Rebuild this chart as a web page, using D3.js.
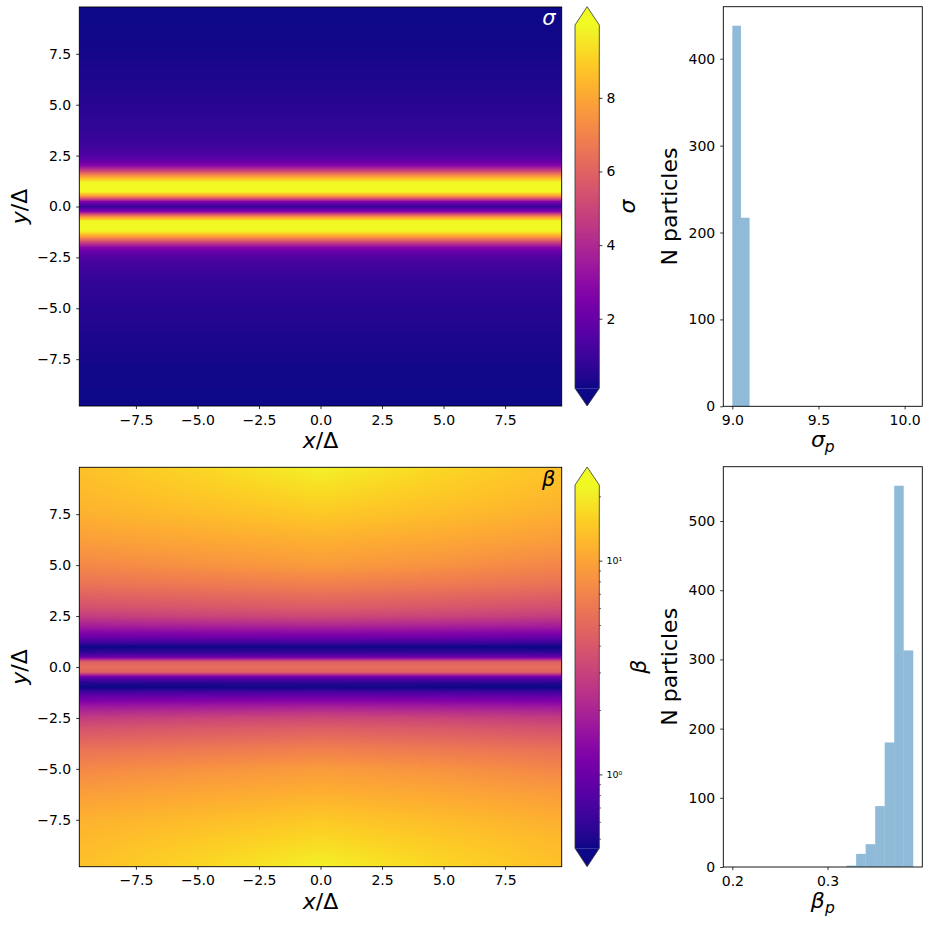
<!DOCTYPE html>
<html><head><meta charset="utf-8">
<script src="https://cdn.jsdelivr.net/npm/d3@7"></script>
<style>body{margin:0;background:#fff}svg{display:block;font-family:"DejaVu Sans",sans-serif}</style>
</head><body>
<script>
// ---------------- DATA ----------------
// sigma field (uniform in x): profile vs y
const sigmaY = [9.8, 9, 8, 7, 6, 5, 4, 3.5, 3, 2.5, 2.25, 2, 1.75, 1.5, 1.25, 1, 0.75, 0.5, 0.25, 0,
  -0.25, -0.5, -0.75, -1, -1.25, -1.5, -1.75, -2, -2.25, -2.5, -3, -3.5, -4, -5, -6, -7, -8, -9, -9.8];
const sigmaVals = [0.12, 0.15, 0.2, 0.28, 0.4, 0.55, 0.72, 0.85, 1.05, 1.45, 1.9, 2.9, 5.0, 7.6, 9.6, 10.4, 10.3, 7.4, 2.8, 0.8,
  2.8, 7.4, 10.3, 10.4, 9.6, 7.6, 5.0, 2.9, 1.9, 1.45, 1.05, 0.85, 0.72, 0.55, 0.4, 0.28, 0.2, 0.15, 0.12];

// beta field on a coarse grid (rows: y, columns: x)
const betaX = [-9.8, -5, 0, 5, 9.8];
const betaY = [9.8, 8.5, 7.5, 6.25, 5, 4, 3, 2.5, 2, 1.5, 1.25, 1, 0.75, 0.5, 0.25, 0,
  -0.25, -0.5, -0.75, -1, -1.25, -1.5, -2, -2.5, -3, -4, -5, -6.25, -7.5, -8.5, -9.8];
const betaGrid = [
  [13.5, 16.5, 21, 16.5, 13.5],
  [12.5, 14.5, 17, 14.5, 12.5],
  [11.5, 12.8, 14.5, 12.8, 11.2],
  [9.5, 10.5, 11.5, 10.5, 9.3],
  [7.4, 8.3, 9.2, 8.3, 7.2],
  [5.6, 6.1, 6.6, 6.1, 5.5],
  [3.8, 4.1, 4.4, 4.1, 3.7],
  [2.8, 3.1, 3.3, 3.1, 2.8],
  [1.8, 1.9, 2.0, 1.9, 1.8],
  [1.02, 1.06, 1.08, 1.06, 1.0],
  [0.7, 0.72, 0.74, 0.72, 0.69],
  [0.44, 0.45, 0.46, 0.45, 0.43],
  [0.55, 0.56, 0.57, 0.56, 0.55],
  [0.95, 0.95, 0.95, 0.95, 0.95],
  [4.6, 4.6, 4.6, 4.6, 4.6],
  [5.3, 5.3, 5.3, 5.3, 5.3],
  [4.6, 4.6, 4.6, 4.6, 4.6],
  [0.95, 0.95, 0.95, 0.95, 0.95],
  [0.55, 0.56, 0.57, 0.56, 0.55],
  [0.44, 0.45, 0.46, 0.45, 0.43],
  [0.7, 0.72, 0.74, 0.72, 0.69],
  [1.02, 1.06, 1.08, 1.06, 1.0],
  [1.8, 1.9, 2.0, 1.9, 1.8],
  [2.8, 3.1, 3.3, 3.1, 2.8],
  [3.8, 4.1, 4.4, 4.1, 3.7],
  [5.6, 6.1, 6.6, 6.1, 5.5],
  [7.4, 8.3, 9.2, 8.3, 7.2],
  [9.5, 10.5, 11.5, 10.5, 9.3],
  [11.5, 12.8, 14.5, 12.8, 11.2],
  [12.5, 14.5, 17, 14.5, 12.5],
  [13.5, 16.5, 21, 16.5, 13.5]
];

// color limits
const sigmaLimits = [0.11, 9.98];
const betaLimits = [0.451, 22.6];
const sigmaCbTicks = [2, 4, 6, 8];
const betaCbMajor = [1, 10];
const betaCbMajorLabels = ["10\u2070", "10\u00b9"];
const betaCbMinor = [0.5, 0.6, 0.7, 0.8, 0.9, 2, 3, 4, 5, 6, 7, 8, 9, 20];

// spatial extent and ticks
const fieldExtent = [-9.8, 9.8];
const fieldTicks = [-7.5, -5, -2.5, 0, 2.5, 5, 7.5];

// histogram of sigma_p
const sigmaEdges = [9.0, 9.05, 9.1, 9.15, 9.2, 9.25, 9.3, 9.35, 9.4, 9.45, 9.5, 9.55, 9.6, 9.65, 9.7, 9.75, 9.8, 9.85, 9.9, 9.95, 10.0, 10.05];
const sigmaCounts = [438, 217, 0, 0, 0, 0, 0, 0, 0, 0, 0, 0, 0, 0, 0, 0, 0, 0, 0, 0, 0];
const sigmaHistXTicks = [9.0, 9.5, 10.0];
const sigmaHistYTicks = [0, 100, 200, 300, 400];

// histogram of beta_p
const betaEdges = [0.20, 0.21, 0.22, 0.23, 0.24, 0.25, 0.26, 0.27, 0.28, 0.29, 0.30, 0.31, 0.32, 0.33, 0.34, 0.35, 0.36, 0.37, 0.38, 0.39];
const betaCounts = [0, 0, 0, 0, 0, 0, 0, 0, 0, 0, 0, 0, 2, 19, 33, 88, 180, 551, 313];
const betaHistXTicks = [0.2, 0.3];
const betaHistYTicks = [0, 100, 200, 300, 400, 500];

// ---------------- LAYOUT ----------------
const svg = d3.select("body").append("svg").attr("width", 928).attr("height", 927);
const TICK = 14, LAB = 22;
const heatX = [79.3, 561.7];
const cbX = [575, 599.3];
const histX = [723.3, 922.3];
const rows = [
  {heatY: [7, 406], cb: [6.7, 25, 388.3, 406], histY: [6.7, 406.3]},
  {heatY: [467.3, 866.7], cb: [467, 485, 848.3, 866.7], histY: [466.7, 867]}
];

function bracketDesc(arr, v) {
  const n = arr.length;
  if (v >= arr[0]) return [0, 0, 0];
  if (v <= arr[n - 1]) return [n - 1, n - 1, 0];
  let i = 0; while (arr[i + 1] > v) i++;
  return [i, i + 1, (arr[i] - v) / (arr[i] - arr[i + 1])];
}
function bracketAsc(arr, v) {
  const n = arr.length;
  if (v <= arr[0]) return [0, 0, 0];
  if (v >= arr[n - 1]) return [n - 1, n - 1, 0];
  let i = 0; while (arr[i + 1] < v) i++;
  return [i, i + 1, (v - arr[i]) / (arr[i + 1] - arr[i])];
}

function styleAxis(g, fs) {
  g.select(".domain").remove();
  g.selectAll(".tick line").attr("stroke", "#000").attr("stroke-width", 0.8);
  g.selectAll(".tick text").attr("fill", "#000").style("font-size", fs + "px").style("font-family", "DejaVu Sans");
}

function drawHeat(r, valueAt, color, cornerLabel, cornerColor, cornerBaseline) {
  const [y0, y1] = r.heatY;
  const xs = d3.scaleLinear().domain(fieldExtent).range(heatX);
  const ys = d3.scaleLinear().domain(fieldExtent).range([y1, y0]);
  const w = Math.round(heatX[1] - heatX[0]), h = Math.round(y1 - y0);
  const cv = document.createElement("canvas"); cv.width = w; cv.height = h;
  const ctx = cv.getContext("2d");
  const img = ctx.createImageData(w, h);
  for (let j = 0; j < h; j++) {
    const y = ys.invert(y0 + (j + 0.5) * (y1 - y0) / h);
    for (let i = 0; i < w; i++) {
      const x = xs.invert(heatX[0] + (i + 0.5) * (heatX[1] - heatX[0]) / w);
      const c = d3.rgb(color(valueAt(x, y)));
      const k = (j * w + i) * 4;
      img.data[k] = c.r; img.data[k + 1] = c.g; img.data[k + 2] = c.b; img.data[k + 3] = 255;
    }
  }
  ctx.putImageData(img, 0, 0);
  svg.append("image").attr("x", heatX[0]).attr("y", y0).attr("width", heatX[1] - heatX[0]).attr("height", y1 - y0)
    .attr("preserveAspectRatio", "none").attr("href", cv.toDataURL());
  svg.append("rect").attr("x", heatX[0]).attr("y", y0).attr("width", heatX[1] - heatX[0]).attr("height", y1 - y0)
    .attr("fill", "none").attr("stroke", "#000").attr("stroke-width", 0.9);
  const gx = svg.append("g").attr("transform", `translate(0,${y1})`)
    .call(d3.axisBottom(xs).tickValues(fieldTicks).tickFormat(d3.format(".1f")).tickSize(3.1).tickPadding(5.5));
  styleAxis(gx, TICK);
  const gy = svg.append("g").attr("transform", `translate(${heatX[0]},0)`)
    .call(d3.axisLeft(ys).tickValues(fieldTicks).tickFormat(d3.format(".1f")).tickSize(3.1).tickPadding(5));
  styleAxis(gy, TICK);
  const xl = svg.append("text").attr("x", (heatX[0] + heatX[1]) / 2).attr("y", y1 + 42).attr("text-anchor", "middle")
    .style("font-size", LAB + "px");
  xl.append("tspan").attr("font-style", "italic").text("x");
  xl.append("tspan").text("/\u0394");
  const yl = svg.append("text").attr("transform", `translate(26.5,${(y0 + y1) / 2}) rotate(-90)`).attr("text-anchor", "middle")
    .style("font-size", LAB + "px");
  yl.append("tspan").attr("font-style", "italic").text("y");
  yl.append("tspan").text("/\u0394");
  svg.append("text").attr("x", 555.5).attr("y", y0 + cornerBaseline).attr("text-anchor", "end")
    .attr("font-style", "italic").attr("fill", cornerColor).style("font-size", "21px").text(cornerLabel);
}

function drawColorbar(r, scale, color, domain) {
  const [tip0, rt, rb, tip1] = r.cb;
  const [x0, x1] = cbX, xm = (x0 + x1) / 2;
  const h = Math.round(rb - rt);
  const cv = document.createElement("canvas"); cv.width = 1; cv.height = h;
  const ctx = cv.getContext("2d");
  for (let j = 0; j < h; j++) {
    ctx.fillStyle = color(scale.invert(rt + (j + 0.5) * (rb - rt) / h));
    ctx.fillRect(0, j, 1, 1);
  }
  svg.append("image").attr("x", x0).attr("y", rt).attr("width", x1 - x0).attr("height", rb - rt)
    .attr("preserveAspectRatio", "none").attr("href", cv.toDataURL());
  svg.append("path").attr("d", `M${x0},${rt}L${xm},${tip0}L${x1},${rt}Z`).attr("fill", color(domain[1] * 1.5));
  svg.append("path").attr("d", `M${x0},${rb}L${xm},${tip1}L${x1},${rb}Z`).attr("fill", color(domain[0] / 1.5));
  svg.append("path").attr("d", `M${x0},${rt}L${xm},${tip0}L${x1},${rt}L${x1},${rb}L${xm},${tip1}L${x0},${rb}Z`)
    .attr("fill", "none").attr("stroke", "#333").attr("stroke-width", 0.8);
}

// ---------------- TOP ROW: sigma ----------------
const sigmaColor = d3.scaleSequential(d3.interpolatePlasma).domain(sigmaLimits).clamp(true);
drawHeat(rows[0], (x, y) => {
  const [a, b, t] = bracketDesc(sigmaY, y);
  return sigmaVals[a] * (1 - t) + sigmaVals[b] * t;
}, sigmaColor, "\u03c3", "#fff", 18);
{
  const r = rows[0];
  const cs = d3.scaleLinear().domain(sigmaLimits).range([r.cb[2], r.cb[1]]);
  drawColorbar(r, cs, sigmaColor, sigmaLimits);
  const g = svg.append("g").attr("transform", `translate(${cbX[1]},0)`)
    .call(d3.axisRight(cs).tickValues(sigmaCbTicks).tickFormat(d3.format("d")).tickSize(3.1).tickPadding(4));
  styleAxis(g, TICK);
  svg.append("text").attr("transform", `translate(635,${(r.cb[1] + r.cb[2]) / 2}) rotate(-90)`).attr("text-anchor", "middle")
    .attr("font-style", "italic").style("font-size", LAB + "px").text("\u03c3");
}

// ---------------- BOTTOM ROW: beta ----------------
const betaColor = d3.scaleSequentialLog(d3.interpolatePlasma).domain(betaLimits).clamp(true);
drawHeat(rows[1], (x, y) => {
  const [a, b, t] = bracketDesc(betaY, y);
  const [c, d, u] = bracketAsc(betaX, x);
  const L = (v) => Math.log10(v);
  const top = L(betaGrid[a][c]) * (1 - u) + L(betaGrid[a][d]) * u;
  const bot = L(betaGrid[b][c]) * (1 - u) + L(betaGrid[b][d]) * u;
  return Math.pow(10, top * (1 - t) + bot * t);
}, betaColor, "\u03b2", "#000", 18.5);
{
  const r = rows[1];
  const cs = d3.scaleLog().domain(betaLimits).range([r.cb[2], r.cb[1]]);
  drawColorbar(r, cs, betaColor, betaLimits);
  const g = svg.append("g").attr("transform", `translate(${cbX[1]},0)`)
    .call(d3.axisRight(cs).tickValues(betaCbMajor).tickFormat((d, i) => betaCbMajorLabels[i]).tickSize(3.1).tickPadding(4));
  styleAxis(g, 9.5);
  const gm = svg.append("g").attr("transform", `translate(${cbX[1]},0)`)
    .call(d3.axisRight(cs).tickValues(betaCbMinor).tickFormat("").tickSize(1.8));
  styleAxis(gm, 9.5);
  gm.selectAll(".tick line").attr("stroke-width", 0.6);
  svg.append("text").attr("transform", `translate(645.5,${(r.cb[1] + r.cb[2]) / 2}) rotate(-90)`).attr("text-anchor", "middle")
    .attr("font-style", "italic").style("font-size", LAB + "px").text("\u03b2");
}

// ---------------- HISTOGRAMS ----------------
function drawHist(r, edges, counts, xTicks, yTicks, xFmt, sym) {
  const [y0, y1] = r.histY;
  const lo = edges[0], hi = edges[edges.length - 1], pad = (hi - lo) * 0.05;
  const xs = d3.scaleLinear().domain([lo - pad, hi + pad]).range(histX);
  const ys = d3.scaleLinear().domain([0, d3.max(counts) * 1.05]).range([y1, y0]);
  svg.append("g").selectAll("rect").data(counts).join("rect")
    .attr("x", (d, i) => xs(edges[i]))
    .attr("width", (d, i) => xs(edges[i + 1]) - xs(edges[i]))
    .attr("y", d => ys(d))
    .attr("height", d => ys(0) - ys(d))
    .attr("fill", "#1f77b4").attr("fill-opacity", 0.5);
  svg.append("rect").attr("x", histX[0]).attr("y", y0).attr("width", histX[1] - histX[0]).attr("height", y1 - y0)
    .attr("fill", "none").attr("stroke", "#000").attr("stroke-width", 0.9);
  const gx = svg.append("g").attr("transform", `translate(0,${y1})`)
    .call(d3.axisBottom(xs).tickValues(xTicks).tickFormat(d3.format(xFmt)).tickSize(3.1).tickPadding(5.5));
  styleAxis(gx, TICK);
  const gy = svg.append("g").attr("transform", `translate(${histX[0]},0)`)
    .call(d3.axisLeft(ys).tickValues(yTicks).tickFormat(d3.format("d")).tickSize(3.1).tickPadding(5));
  styleAxis(gy, TICK);
  svg.append("text").attr("transform", `translate(677,${(y0 + y1) / 2}) rotate(-90)`).attr("text-anchor", "middle")
    .style("font-size", LAB + "px").text("N particles");
  const xl = svg.append("text").attr("x", (histX[0] + histX[1]) / 2).attr("y", y1 + 41).attr("text-anchor", "middle")
    .style("font-size", LAB + "px").attr("font-style", "italic");
  xl.append("tspan").text(sym);
  xl.append("tspan").attr("dy", 5).style("font-size", "15.5px").text("p");
}
drawHist(rows[0], sigmaEdges, sigmaCounts, sigmaHistXTicks, sigmaHistYTicks, ".1f", "\u03c3");
drawHist(rows[1], betaEdges, betaCounts, betaHistXTicks, betaHistYTicks, ".1f", "\u03b2");
</script>
</body></html>
